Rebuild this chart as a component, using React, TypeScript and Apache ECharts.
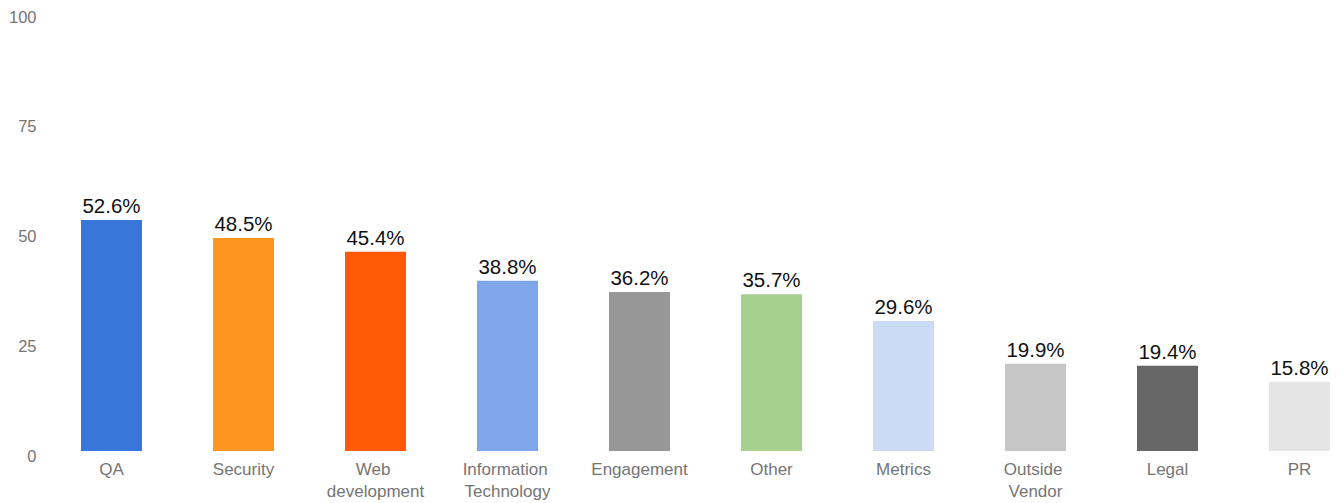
import React, { useEffect, useRef } from "react";
import * as echarts from "echarts";

const categories = [
  "QA",
  "Security",
  "Web development",
  "Information Technology",
  "Engagement",
  "Other",
  "Metrics",
  "Outside Vendor",
  "Legal",
  "PR",
];
const values = [52.6, 48.5, 45.4, 38.8, 36.2, 35.7, 29.6, 19.9, 19.4, 15.8];
const colors = [
  "#3876d9",
  "#fd9621",
  "#ff5905",
  "#7ea6e8",
  "#979797",
  "#a6d08e",
  "#cbdbf5",
  "#c6c6c6",
  "#666666",
  "#e5e5e6",
];
const yTicks = [0, 25, 50, 75, 100];

export default function App() {
  const ref = useRef<HTMLDivElement>(null);
  useEffect(() => {
    if (!ref.current) return;
    const chart = echarts.init(ref.current, undefined, { renderer: "svg" });
    chart.setOption({
      animation: false,
      grid: {
        left: 45.5,
        width: 1320,
        top: 12,
        bottom: 52,
        containLabel: false,
        outerBoundsMode: "none",
      },
      xAxis: {
        type: "category",
        data: categories,
        axisLine: { show: false },
        axisTick: { show: false },
        axisLabel: {
          interval: 0,
          margin: 7,
          color: "#757575",
          fontFamily: "Liberation Sans, Arial, sans-serif",
          fontSize: 17,
          lineHeight: 22,
          width: 100,
          overflow: "break",
        },
      },
      yAxis: {
        type: "value",
        min: yTicks[0],
        max: yTicks[yTicks.length - 1],
        interval: 25,
        splitLine: { show: false },
        axisLine: { show: false },
        axisTick: { show: false },
        axisLabel: {
          margin: 9,
          formatter: (v: number) => "{a|" + v + "}",
          rich: {
            a: {
              color: "#757575",
              fontFamily: "Liberation Sans, Arial, sans-serif",
              fontSize: 16.5,
              padding: [9, 0, 0, 0],
            },
          },
        },
      },
      series: [
        {
          type: "bar",
          data: values.map((v, i) => ({ value: v, itemStyle: { color: colors[i] } })),
          barWidth: 61,
          label: {
            show: true,
            position: "top",
            distance: 4,
            formatter: (p: any) => p.value.toFixed(1) + "%",
            color: "#111111",
            fontFamily: "Liberation Sans, Arial, sans-serif",
            fontSize: 20.5,
          },
        },
      ],
    });
    return () => chart.dispose();
  }, []);
  return <div ref={ref} style={{ width: 1343, height: 503, position: "absolute", left: 0, top: 0 }} />;
}
